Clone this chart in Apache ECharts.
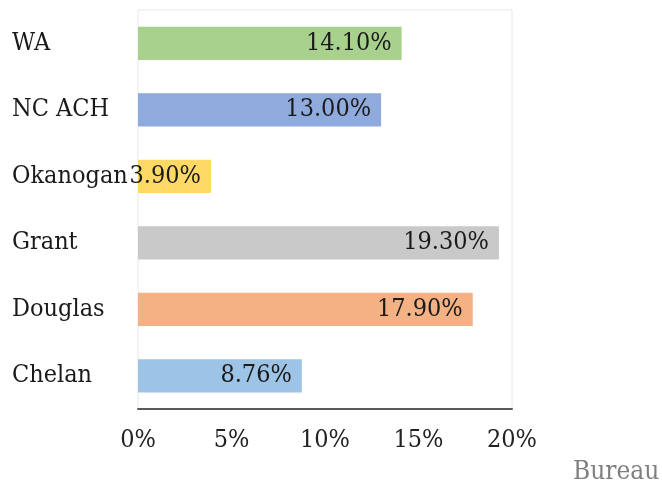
<!DOCTYPE html>
<html>
<head>
<meta charset="utf-8">
<script src="https://cdn.jsdelivr.net/npm/echarts@6/dist/echarts.min.js"></script>
<style>
html,body{margin:0;padding:0;background:#fff;}
#chart{width:662px;height:486px;}
</style>
</head>
<body>
<div id="chart"></div>
<script>
const categories = ['WA', 'NC ACH', 'Okanogan', 'Grant', 'Douglas', 'Chelan'];
const values = [14.10, 13.00, 3.90, 19.30, 17.90, 8.76];
const valueLabels = ['14.10%', '13.00%', '3.90%', '19.30%', '17.90%', '8.76%'];
const tickLabels = ['0%', '5%', '10%', '15%', '20%'];
const barColors = ['#a9d18e', '#8faadc', '#ffd966', '#c9c9c9', '#f4b183', '#9dc3e6'];

const FONT = '"DejaVu Serif Condensed", "DejaVu Serif", serif';
const chart = echarts.init(document.getElementById('chart'));
chart.setOption({
  animation: false,
  backgroundColor: '#ffffff',
  grid: { left: 138, right: 150, top: 10, bottom: 77, show: true, borderColor: '#e8e8e8', borderWidth: 1, containLabel: false },
  xAxis: {
    type: 'value', min: 0, max: 20, interval: 5,
    axisLine: { show: true, lineStyle: { color: '#595959', width: 2 } },
    axisTick: { show: false },
    splitLine: { show: false },
    axisLabel: {
      margin: 19, color: '#222', fontFamily: FONT, fontSize: 25,
      formatter: v => tickLabels[Math.round(v / 5)]
    }
  },
  yAxis: {
    type: 'category', inverse: true, data: categories,
    axisLine: { show: false }, axisTick: { show: false }, splitLine: { show: false },
    axisLabel: { align: 'left', margin: 126, color: '#1a1a1a', fontFamily: FONT, fontSize: 25 }
  },
  series: [{
    type: 'bar',
    barWidth: '50%',
    data: values.map((v, i) => ({ value: v, itemStyle: { color: barColors[i] } })),
    label: {
      show: true, position: 'insideRight', distance: 10,
      color: '#1a1a1a', fontFamily: FONT, fontSize: 25,
      formatter: p => valueLabels[p.dataIndex]
    }
  }],
  graphic: [{
    type: 'text', left: 573, top: 459,
    style: { text: 'Bureau', fill: '#7f7f7f', font: '26px "DejaVu Serif Condensed", "DejaVu Serif", serif' }
  }]
});
</script>
</body>
</html>
